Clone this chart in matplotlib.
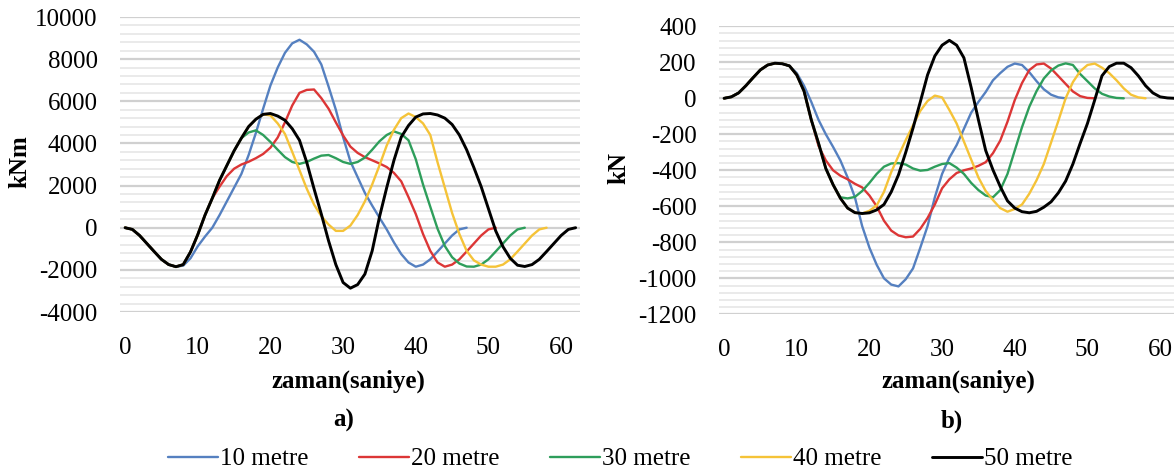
import matplotlib.pyplot as plt
from matplotlib.ticker import MultipleLocator
import numpy as np

plt.rcParams['font.family'] = ['Liberation Serif', 'DejaVu Serif']
plt.rcParams['axes.unicode_minus'] = False

labels = ['10 metre', '20 metre', '30 metre', '40 metre', '50 metre']
colors = ['#5580c0', '#dc3636', '#2e9e5b', '#f5c338', '#000000']
widths = [1.7, 1.7, 1.7, 1.7, 2.1]

# a) moment (kNm), one value per second from t = 0
m10 = [0, -80, -370, -750, -1130, -1500, -1750, -1850, -1800, -1450, -880, -420, 0, 600, 1250,
       1900, 2550, 3450, 4500, 5650, 6750, 7600, 8300, 8750, 8920, 8700, 8350, 7750, 6700, 5600,
       4300, 3150, 2400, 1650, 1050, 480, -80, -700, -1250, -1650, -1850, -1750, -1500, -1130,
       -750, -370, -80, 0]
m20 = [0, -80, -370, -750, -1130, -1500, -1750, -1850, -1750, -1150, -330, 600, 1400, 1950, 2450,
       2800, 3000, 3130, 3300, 3500, 3800, 4280, 5000, 5800, 6400, 6540, 6560, 6150, 5650, 5000,
       4380, 3850, 3550, 3350, 3200, 3050, 2880, 2600, 2200, 1450, 650, -300, -1100, -1650, -1850,
       -1750, -1500, -1130, -750, -370, -80, 0]
m30 = [0, -80, -370, -750, -1130, -1500, -1750, -1850, -1750, -1150, -330, 600, 1400, 2250, 2950,
       3650, 4250, 4520, 4620, 4400, 4070, 3700, 3350, 3120, 3030, 3120, 3280, 3420, 3450, 3300,
       3120, 3030, 3120, 3330, 3700, 4100, 4400, 4570, 4450, 4150, 3250, 2050, 990, -50, -870,
       -1400, -1700, -1840, -1850, -1750, -1500, -1130, -750, -370, -80, 0]
m40 = [0, -80, -370, -750, -1130, -1500, -1750, -1850, -1750, -1150, -330, 600, 1400, 2250, 2950,
       3650, 4250, 4800, 5150, 5380, 5330, 4950, 4450, 3600, 2730, 1850, 1100, 550, 150, -150,
       -150, 100, 600, 1250, 2050, 2950, 3900, 4650, 5200, 5420, 5250, 4950, 4400, 3100, 1900,
       700, -300, -1100, -1550, -1750, -1850, -1850, -1750, -1500, -1130, -750, -370, -80, 0]
m50 = [0, -80, -370, -750, -1130, -1500, -1750, -1850, -1750, -1150, -330, 600, 1400, 2250, 2950,
       3650, 4250, 4800, 5150, 5380, 5420, 5300, 5100, 4700, 4150, 3100, 1850, 650, -620, -1750,
       -2600, -2870, -2700, -2200, -1100, 500, 1900, 3200, 4300, 4850, 5250, 5400, 5420, 5350,
       5200, 4900, 4400, 3700, 2850, 1950, 900, -150, -900, -1450, -1780, -1840, -1750, -1500,
       -1130, -750, -370, -80, 0]

# b) shear force (kN), one value per second from t = 0
v10 = [0, 8, 30, 70, 115, 158, 185, 195, 192, 180, 140, 70, -20, -120, -200, -270, -345, -440,
       -550, -710, -830, -925, -1000, -1035, -1045, -1005, -945, -830, -710, -550, -420, -330,
       -260, -170, -80, -20, 35, 100, 140, 175, 193, 185, 145, 95, 50, 20, 5, 0]
v20 = [0, 8, 30, 70, 115, 158, 185, 195, 192, 180, 130, 40, -120, -265, -345, -400, -430, -450,
       -475, -495, -540, -600, -680, -735, -762, -772, -768, -725, -665, -590, -500, -450, -415,
       -400, -390, -375, -355, -305, -235, -130, -10, 85, 157, 188, 193, 165, 123, 80, 38, 12, 2, 0]
v30 = [0, 8, 30, 70, 115, 158, 185, 195, 192, 180, 130, 40, -120, -250, -390, -480, -550, -556,
       -548, -515, -470, -420, -380, -362, -360, -368, -390, -402, -398, -380, -365, -360, -385,
       -420, -470, -510, -540, -550, -510, -420, -290, -160, -47, 40, 110, 155, 182, 194, 185,
       135, 95, 55, 25, 10, 2, 0]
v40 = [0, 8, 30, 70, 115, 158, 185, 195, 192, 180, 130, 40, -120, -250, -390, -480, -555, -610,
       -635, -640, -625, -595, -520, -410, -320, -232, -150, -70, -15, 15, 5, -65, -140, -240,
       -340, -440, -515, -565, -610, -630, -615, -590, -530, -455, -365, -245, -125, 0, 90, 150,
       185, 193, 170, 140, 100, 55, 20, 5, 0]
v50 = [0, 8, 30, 70, 115, 158, 185, 195, 192, 180, 130, 40, -120, -250, -390, -480, -555, -610,
       -635, -640, -636, -620, -590, -520, -425, -300, -165, -20, 130, 235, 295, 322, 295, 225, 60,
       -120, -290, -398, -490, -570, -610, -630, -636, -628, -605, -575, -525, -460, -365, -250,
       -140, -10, 125, 176, 195, 195, 170, 125, 70, 30, 8, 2, 0]

moments = [m10, m20, m30, m40, m50]
shears = [v10, v20, v30, v40, v50]

fig = plt.figure(figsize=(11.74, 4.73), dpi=100)
ax1 = fig.add_axes([120 / 1174, 1 - 312 / 473, 460 / 1174, 295 / 473])
ax2 = fig.add_axes([719 / 1174, 1 - 314.3 / 473, 460 / 1174, 288 / 473])


def style(ax, lo, hi, major, minor):
    ax.set_xlim(-0.7, 62.6)
    ax.set_ylim(lo, hi)
    ax.set_yticks(np.arange(lo, hi + 1, major))
    ax.yaxis.set_minor_locator(MultipleLocator(minor))
    ax.set_xticks(range(0, 61, 10))
    ax.grid(axis='y', which='major', color='#d0d0d0', lw=1.6)
    ax.grid(axis='y', which='minor', color='#e6e6e6', lw=1.2)
    ax.set_axisbelow(True)
    for s in ax.spines.values():
        s.set_visible(False)
    ax.tick_params(which='both', length=0)
    ax.tick_params(axis='y', pad=16, labelsize=18)
    ax.tick_params(axis='x', pad=18, labelsize=18)


lines = []
for vals, c, w, lab in zip(moments, colors, widths, labels):
    ln, = ax1.plot(np.arange(len(vals)), vals, color=c, lw=w, label=lab, solid_capstyle='round')
    lines.append(ln)
for vals, c, w in zip(shears, colors, widths):
    ax2.plot(np.arange(len(vals)), vals, color=c, lw=w, solid_capstyle='round')

style(ax1, -4000, 10000, 2000, 400)
style(ax2, -1200, 400, 200, 40)

fig.text(20 / 1174, 1 - 162 / 473, 'kNm', rotation=90, fontsize=18, fontweight='bold',
         ha='center', va='center')
fig.text(619 / 1174, 1 - 168 / 473, 'kN', rotation=90, fontsize=18, fontweight='bold',
         ha='center', va='center')
fig.text(348 / 1174, 1 - 381 / 473, 'zaman(saniye)', fontsize=18, fontweight='bold',
         ha='center', va='center')
fig.text(958 / 1174, 1 - 381 / 473, 'zaman(saniye)', fontsize=18, fontweight='bold',
         ha='center', va='center')
fig.text(344 / 1174, 1 - 420 / 473, 'a)', fontsize=18, fontweight='bold', ha='center', va='center')
fig.text(952 / 1174, 1 - 421 / 473, 'b)', fontsize=18, fontweight='bold', ha='center', va='center')

fig.legend(lines, labels, ncol=5, loc='center', bbox_to_anchor=(620 / 1174, 1 - 459 / 473),
           frameon=False, fontsize=18, handlelength=2.0, handletextpad=0.1, columnspacing=2.0)

fig.savefig('out.png', dpi=100)
